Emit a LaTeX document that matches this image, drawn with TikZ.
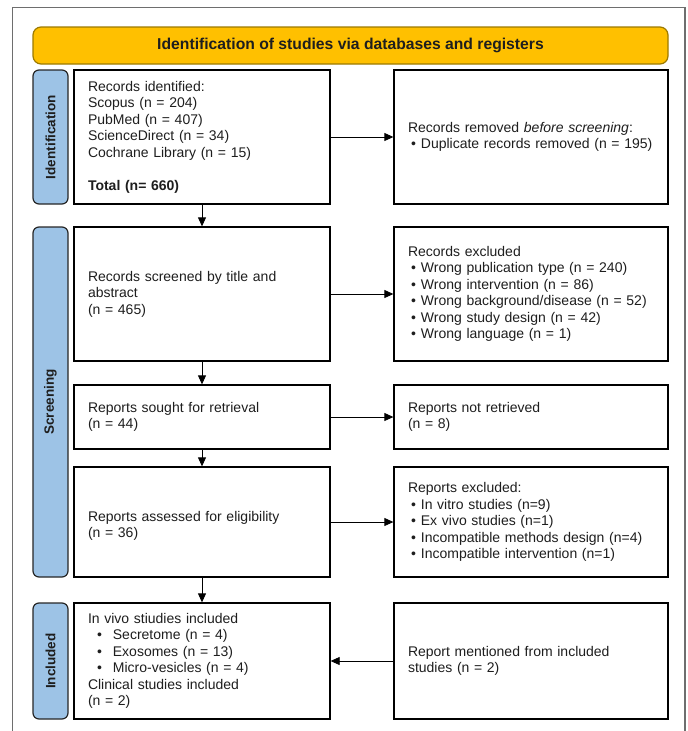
\documentclass[tikz,border=0pt]{standalone}
\usepackage{fontspec}
\setmainfont{Liberation Sans}
\usetikzlibrary{arrows.meta}
\definecolor{hdrfill}{HTML}{FFC000}
\definecolor{hdrline}{HTML}{9C7A00}
\definecolor{sidefill}{HTML}{9DC3E6}
\definecolor{framegray}{HTML}{6E6E6E}
\definecolor{txt}{HTML}{1E1E1E}
\newcommand\rb{\hspace*{3pt}•\hspace{5pt}}
\newcommand\lb{\hspace*{9pt}•\hspace{11pt}}
\begin{document}
\begin{tikzpicture}[x=1pt,y=-1pt,
  basebox/.style={draw=black, line width=1.3pt, fill=white, rectangle, inner ysep=2pt,
    align=left, text=txt, font=\fontsize{14}{16.5}\selectfont},
  lbox/.style={basebox, minimum width=256pt, text width=228pt, inner xsep=14pt},
  rbox/.style={basebox, minimum width=274pt, text width=246pt, inner xsep=14pt},
  boxtext/.style={align=left, text=txt, font=\fontsize{14}{16.5}\selectfont, text width=228pt, inner sep=0pt},
  sidebar/.style={draw=black!85, line width=1.2pt, fill=sidefill, rounded corners=6pt,
    minimum width=35pt, inner sep=0pt},
  sidelabel/.style={rotate=90, font=\fontsize{13.5}{16}\selectfont\bfseries, text=txt},
  header/.style={draw=hdrline, line width=1.2pt, fill=hdrfill, rounded corners=8pt,
    minimum width=635pt, minimum height=37pt, inner sep=0pt,
    font=\fontsize{15.7}{18}\selectfont\bfseries, text=txt},
  arr/.style={draw=black, line width=0.8pt, -{Triangle[length=9pt,width=8pt]}}
]
\useasboundingbox (0,0) rectangle (688,731);
% outer frame
\draw[framegray, line width=1.5pt] (12.5,731) -- (12.5,7.5) -- (685,7.5) -- (685,731);

% header
\node[header] (hdr) at (350.5,45.5) {Identification of studies via databases and registers};

% side bars
\node[sidebar, minimum height=134pt] (sid) at (50.5,137) {};
\node[sidelabel] (sidl) at (sid.center) {Identification};
\node[sidebar, minimum height=350pt] (sscr) at (50.5,402) {};
\node[sidelabel] (sscrl) at (sscr.center) {Screening};
\node[sidebar, minimum height=116pt] (sinc) at (50.5,661) {};
\node[sidelabel] (sincl) at (sinc.center) {Included};

% left column
\node[lbox, minimum height=134pt] (b1) at (202,137) {Records identified:\\Scopus (n = 204)\\PubMed (n = 407)\\ScienceDirect (n = 34)\\Cochrane Library (n = 15)\\[16.5pt]\textbf{Total (n= 660)}};
\node[lbox, minimum height=134pt] (b2) at (202,294) {Records screened by title and\\abstract\\(n = 465)\\[10pt]};
\node[lbox, minimum height=64pt] (b3) at (202,417) {Reports sought for retrieval\\(n = 44)};
\node[lbox, minimum height=110pt] (b4) at (202,522) {};
\node[boxtext] (b4t) at ([yshift=-4pt]b4.center) {Reports assessed for eligibility\\(n = 36)};
\node[lbox, minimum height=116pt] (b5) at (202,661) {In vivo stiudies included\\\lb Secretome (n = 4)\\\lb Exosomes (n = 13)\\\lb Micro-vesicles (n = 4)\\Clinical studies included\\(n = 2)};

% right column
\node[rbox, minimum height=134pt] (r1) at (531,137) {Records removed \textit{before screening}:\\\rb Duplicate records removed (n = 195)};
\node[rbox, minimum height=134pt] (r2) at (531,294) {Records excluded\\\rb Wrong publication type (n = 240)\\\rb Wrong intervention (n = 86)\\\rb Wrong background/disease (n = 52)\\\rb Wrong study design (n = 42)\\\rb Wrong language (n = 1)};
\node[rbox, minimum height=64pt] (r3) at (531,417) {Reports not retrieved\\(n = 8)};
\node[rbox, minimum height=110pt] (r4) at (531,522) {Reports excluded:\\\rb In vitro studies (n=9)\\\rb Ex vivo studies (n=1)\\\rb Incompatible methods design (n=4)\\\rb Incompatible intervention (n=1)};
\node[rbox, minimum height=116pt] (r5) at (531,661) {Report mentioned from included\\studies (n = 2)};

% connectors
\draw[arr] (b1.south) -- (b2.north);
\draw[arr] (b2.south) -- (b3.north);
\draw[arr] (b3.south) -- (b4.north);
\draw[arr] (b4.south) -- (b5.north);
\draw[arr] (b1.east) -- (r1.west);
\draw[arr] (b2.east) -- (r2.west);
\draw[arr] (b3.east) -- (r3.west);
\draw[arr] (b4.east) -- (r4.west);
\draw[arr] (r5.west) -- (b5.east);
\end{tikzpicture}
\end{document}
